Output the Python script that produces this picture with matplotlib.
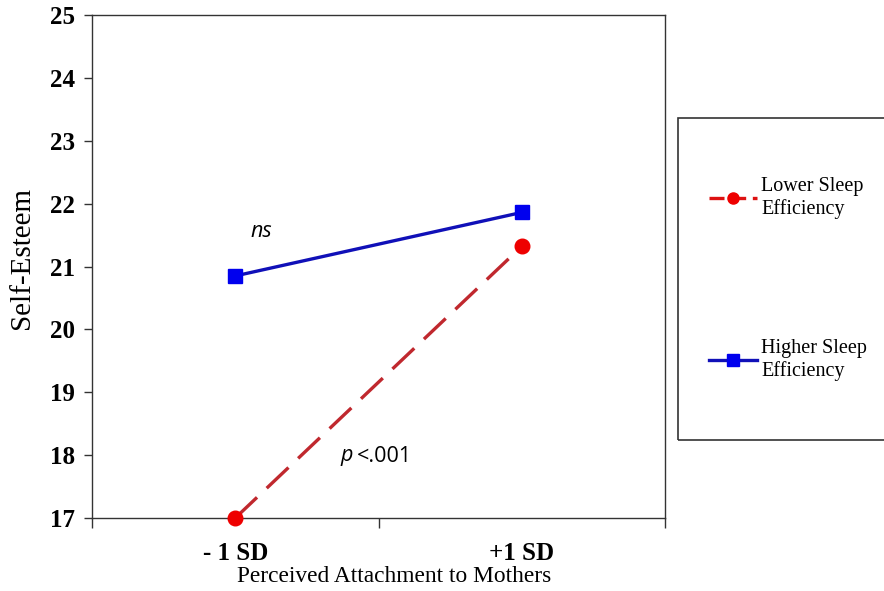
import matplotlib.pyplot as plt
from matplotlib.patches import Rectangle
from matplotlib.lines import Line2D

groups = ['- 1 SD', '+1 SD']
lower_sleep = [17.0, 21.32]
higher_sleep = [20.85, 21.86]
yticks = [17, 18, 19, 20, 21, 22, 23, 24, 25]

serif = 'Liberation Serif'
sans = 'Open Sans'

fig = plt.figure(figsize=(8.84, 5.91), dpi=100)
ax = fig.add_axes([92/884, 1-518/591, (665-92)/884, (518-15)/591])

xpos = [0.5, 1.5]
ax.plot(xpos, lower_sleep, color='#c0282e', lw=2.4, dashes=(9, 4),
        marker='o', ms=10.5, mfc='#ee0000', mec='#ee0000', clip_on=False, zorder=3)
ax.plot(xpos, higher_sleep, color='#1010b8', lw=2.4,
        marker='s', ms=10.5, mfc='#0000ee', mec='#0000ee', clip_on=False, zorder=3)

ax.set_xlim(0, 2)
ax.set_ylim(17, 25)
ax.set_yticks(yticks)
ax.set_yticklabels([str(t) for t in yticks], fontfamily=serif, fontweight='bold', fontsize=18)
ax.set_xticks([0, 1, 2])
ax.set_xticklabels([])
ax.tick_params(axis='both', direction='out', length=6, width=1, color='#333333')
ax.tick_params(axis='y', pad=6)
ax.tick_params(axis='x', length=7)
for i, g in enumerate(groups):
    ax.text(xpos[i], -0.07, g, transform=ax.get_xaxis_transform(), ha='center', va='center',
            fontfamily=serif, fontweight='bold', fontsize=18)
for s in ax.spines.values():
    s.set_color('#333333')
    s.set_linewidth(1)

fig.text(22/884, 1-258/591, 'Self-Esteem', rotation=90, ha='center', va='center',
         fontfamily=serif, fontsize=21)
fig.text(394/884, 1-577/591, 'Perceived Attachment to Mothers', ha='center', va='center',
         fontfamily=serif, fontsize=16.8)

ax.text(0.59, 21.55, 'ns', fontfamily=sans, fontstyle='italic', fontsize=15.5, ha='center', va='center')
fig.text(340/884, 1-456/591, 'p', fontfamily=sans, fontstyle='italic', fontsize=15.5, ha='left', va='center')
fig.text(357/884, 1-456/591, '<.001', fontfamily=sans, fontsize=15.5, ha='left', va='center')

# legend box
fig.patches.append(Rectangle((678/884, 1-440/591), 220/884, (440-118)/591,
                             transform=fig.transFigure, fill=False, ec='#333333', lw=1.2))
h1 = Line2D([], [], color='#dd1111', lw=2.4, dashes=(4.5, 2), marker='o', ms=8,
            mfc='#ee0000', mec='#ee0000')
h2 = Line2D([], [], color='#1010b8', lw=2.4, marker='s', ms=8, mfc='#0000ee', mec='#0000ee')
leg_kw = dict(loc='center left', frameon=False, prop={'family': serif, 'size': 14.5},
              handlelength=2.4, handletextpad=0.2, borderpad=0, labelspacing=0,
              borderaxespad=0)
l1 = fig.legend([h1], ['Lower Sleep\nEfficiency'], bbox_to_anchor=(709/884, 1-198/591), **leg_kw)
l2 = fig.legend([h2], ['Higher Sleep\nEfficiency'], bbox_to_anchor=(709/884, 1-360/591), **leg_kw)
for lg in (l1, l2):
    for t in lg.get_texts():
        t.set_linespacing(1.25)

fig.savefig('out.png', dpi=100)
